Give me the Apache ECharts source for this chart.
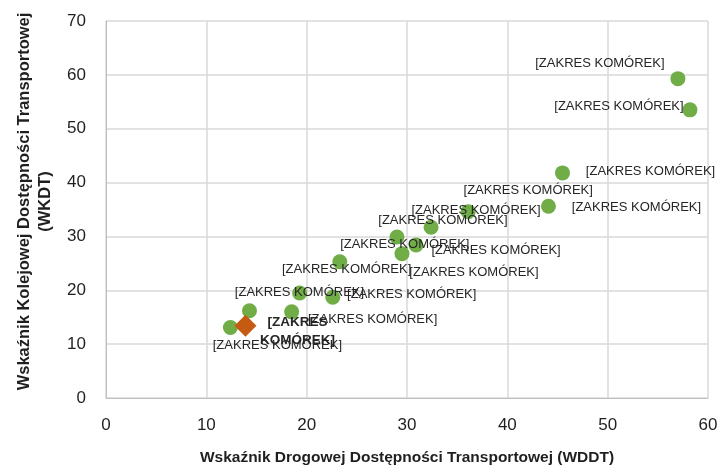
<!DOCTYPE html>
<html>
<head>
<meta charset="utf-8">
<script src="https://cdn.jsdelivr.net/npm/echarts@6/dist/echarts.min.js"></script>
<style>
  html, body { margin: 0; padding: 0; background: #fff; }
  #chart { width: 720px; height: 467px; }
</style>
</head>
<body>
<div id="chart"></div>
<script>
// dane punktów (WDDT, WKDT)
var wddt = [57.0, 58.2, 45.5, 44.1, 36.1, 32.4, 29.0, 30.9, 29.5, 23.3, 22.6, 19.3, 18.5, 14.3, 12.4]
var wkdt = [59.3, 53.5, 41.8, 35.6, 34.6, 31.7, 29.9, 28.4, 26.8, 25.3, 18.7, 19.5, 16.0, 16.2, 13.1]
var highlightX = [13.9]
var highlightY = [13.4]
var pointLabel = '[ZAKRES KOMÓREK]'
var xTitle = 'Wskaźnik Drogowej Dostępności Transportowej (WDDT)'
var yTitle = 'Wskaźnik Kolejowej Dostępności Transportowej\n(WKDT)'

// przesunięcia etykiet (px) - ręcznie ułożone jak w oryginale
var labelOffsets = [
  [-78, -15], [-71, -3], [88, -1], [88, 1], [60, -21], [45, -17], [46, -17],
  [80, 5], [72, 19], [65, -17], [79, -3], [47, -24], [81, 8], [50, -18], [47, 18]
]

var myChart = echarts.init(document.getElementById('chart'))

var greenData = wddt.map(function (x, i) {
  return {
    value: [x, wkdt[i]],
    label: { offset: labelOffsets[i] }
  }
})

var dark = '#1f1f1f'

myChart.setOption({
  animation: false,
  textStyle: { fontFamily: 'Liberation Sans' },
  grid: { left: 106, right: 12, top: 21, bottom: 69, outerBoundsMode: 'none' },
  xAxis: {
    type: 'value',
    min: 0,
    max: 60,
    interval: 10,
    name: xTitle,
    nameLocation: 'middle',
    nameGap: 52,
    nameTextStyle: { color: dark, fontSize: 15.5, fontWeight: 'bold' },
    axisLine: { show: true, lineStyle: { color: '#bfbfbf' } },
    axisTick: { show: false },
    axisLabel: { color: dark, fontSize: 17, margin: 19 },
    splitLine: { lineStyle: { color: '#d9d9d9', width: 1.5 } }
  },
  yAxis: {
    type: 'value',
    min: 0,
    max: 70,
    interval: 10,
    name: yTitle,
    nameLocation: 'middle',
    nameGap: 44,
    nameTextStyle: { color: dark, fontSize: 16.5, fontWeight: 'bold', lineHeight: 21, padding: [0, 0, 0, 16] },
    axisLine: { show: true, lineStyle: { color: '#bfbfbf' } },
    axisTick: { show: false },
    axisLabel: { color: dark, fontSize: 17, margin: 20 },
    splitLine: { lineStyle: { color: '#d9d9d9', width: 1.5 } }
  },
  series: [
    {
      type: 'scatter',
      symbol: 'circle',
      symbolSize: 15,
      itemStyle: { color: '#70AD47', opacity: 1 },
      label: {
        show: true,
        position: 'inside',
        formatter: pointLabel,
        color: '#262626',
        fontSize: 13
      },
      data: greenData
    },
    {
      type: 'scatter',
      symbol: 'diamond',
      symbolSize: [22, 22],
      itemStyle: { color: '#C55A11', opacity: 1 },
      label: {
        show: true,
        position: 'inside',
        offset: [52, 5],
        formatter: '[ZAKRES\nKOMÓREK]',
        color: '#262626',
        fontSize: 13.5,
        fontWeight: 'bold',
        lineHeight: 18
      },
      data: highlightX.map(function (x, i) { return [x, highlightY[i]] })
    }
  ]
})
</script>
</body>
</html>
